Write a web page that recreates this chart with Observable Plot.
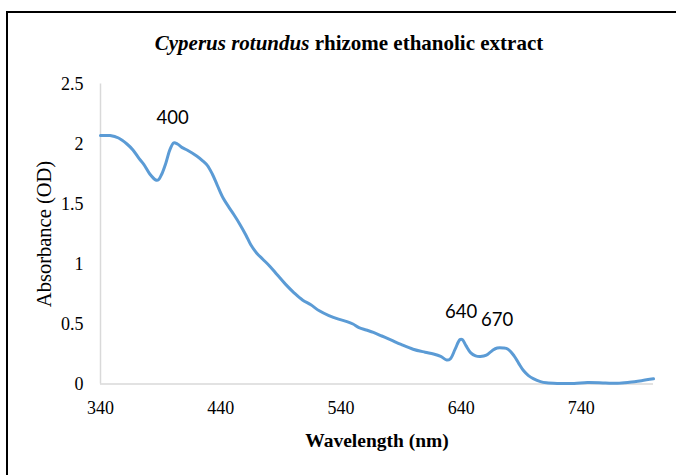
<!DOCTYPE html>
<html><head><meta charset="utf-8">
<script src="https://cdn.jsdelivr.net/npm/d3@7"></script>
<script src="https://cdn.jsdelivr.net/npm/@observablehq/plot@0.6"></script>
<style>
html,body{margin:0;padding:0;background:#fff;}
#wrap{position:relative;width:676px;height:475px;overflow:hidden;}
#frame{position:absolute;left:6px;top:11px;width:700px;height:500px;border-left:2px solid #000;border-top:2px solid #000;}
#title{position:absolute;left:0;width:698px;top:31px;text-align:center;font-family:"Liberation Serif",serif;font-weight:bold;font-size:21px;color:#000;}
#chart{position:absolute;left:0;top:0;}
</style></head>
<body>
<div id="wrap"><div id="frame"></div><div id="chart"></div><div id="title"><i>Cyperus rotundus</i> rhizome ethanolic extract</div></div>
<script>
const wavelength = [340,348,355,362,367,372,376,381,386,388,391,394,398,401,404,408,412,420,425,429,433,437,442,447,451,456,461,465,470,475,481,487,494,501,508,515,522,530,538,545,550,555,561,567,574,581,590,600,610,617,623,628,631,635,639,641,644,648,652,656,661,666,670,675,679,684,688,692,696,700,706,711,720,734,745,760,770,780,790,800];
const absorbance = [2.07,2.07,2.05,2.00,1.95,1.88,1.83,1.75,1.70,1.70,1.75,1.83,1.96,2.01,2.00,1.97,1.95,1.90,1.86,1.82,1.75,1.66,1.55,1.47,1.41,1.33,1.24,1.16,1.09,1.04,0.98,0.91,0.83,0.76,0.70,0.66,0.61,0.57,0.54,0.52,0.50,0.47,0.45,0.43,0.40,0.37,0.33,0.29,0.265,0.25,0.23,0.20,0.21,0.29,0.37,0.37,0.32,0.26,0.235,0.23,0.24,0.28,0.30,0.30,0.29,0.235,0.17,0.11,0.07,0.045,0.02,0.01,0.005,0.005,0.012,0.008,0.006,0.015,0.028,0.043];
const xTicks = [340,440,540,640,740];
const yTicks = [0,0.5,1,1.5,2,2.5];
const peakLabels = ["400","640","670"];
const peakX = [400,640,670];
const peakY = [2.22,0.60,0.53];

const data = wavelength.map((w,i)=>({w, a: absorbance[i]}));
const peaks = peakLabels.map((t,i)=>({t, x: peakX[i], y: peakY[i]}));

const chart = Plot.plot({
  width: 676, height: 475,
  marginTop: 83.5, marginBottom: 91.5, marginLeft: 100, marginRight: 23,
  style: {fontFamily: '"Liberation Serif", serif', fontSize: "18px", background: "transparent", color: "#000"},
  x: {domain: [340, 800]},
  y: {domain: [0, 2.5]},
  marks: [
    Plot.ruleX([340], {stroke: "#d9d9d9", strokeWidth: 1.5}),
    Plot.ruleY([0], {stroke: "#d9d9d9", strokeWidth: 1.5}),
    Plot.axisX({ticks: xTicks, tickSize: 0, tickPadding: 17, label: null, tickFormat: d => String(d)}),
    Plot.axisY({ticks: yTicks, tickSize: 0, tickPadding: 17, label: null, tickFormat: d => String(d)}),
    Plot.line(data, {x: "w", y: "a", stroke: "#5b9bd5", strokeWidth: 3, curve: "catmull-rom"}),
    Plot.text(peaks, {x: "x", y: "y", text: "t", fontFamily: "Lato, sans-serif", fontSize: 18.5, fill: "#000"}),
    Plot.text(["Wavelength (nm)"], {text: d => d, frameAnchor: "bottom", dy: 57, lineAnchor: "middle", textAnchor: "middle", fontWeight: "bold", fontSize: 19.5, fill: "#000"}),
    Plot.text(["Absorbance (OD)"], {text: d => d, frameAnchor: "left", dx: -56, rotate: -90, lineAnchor: "middle", textAnchor: "middle", fontSize: 20.5, fill: "#000"})
  ]
});
document.getElementById("chart").appendChild(chart);
</script>
</body></html>
